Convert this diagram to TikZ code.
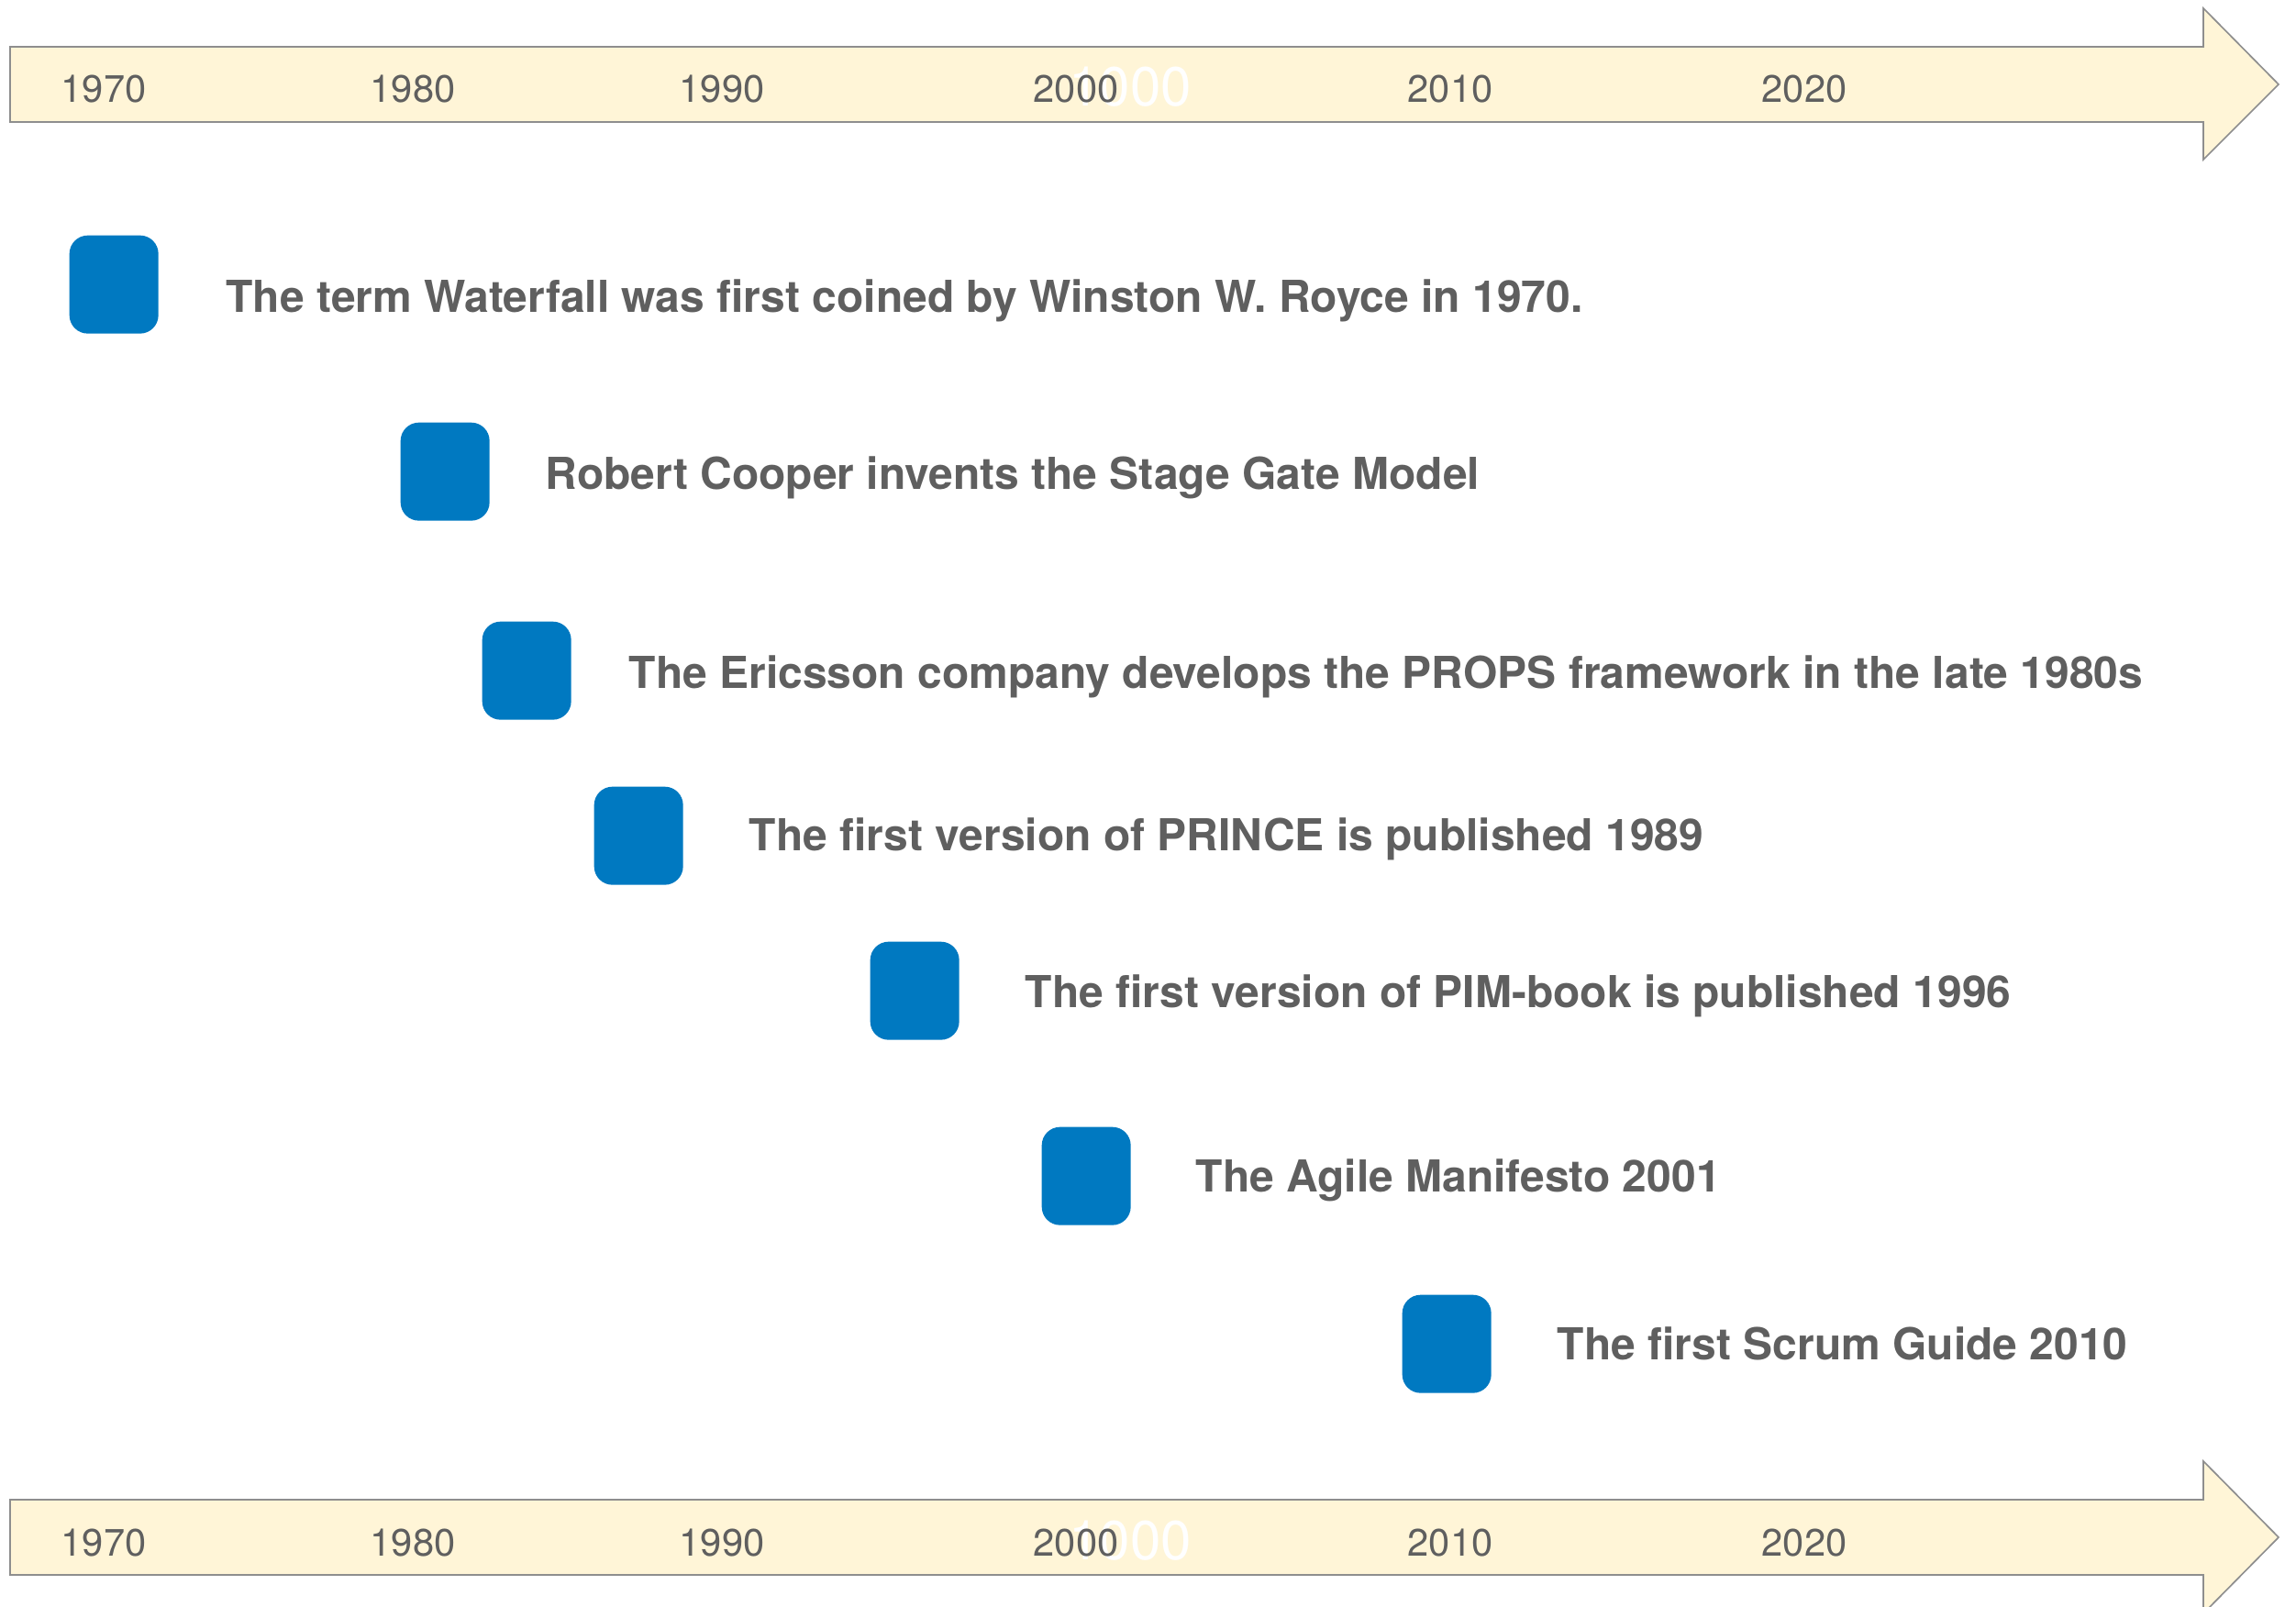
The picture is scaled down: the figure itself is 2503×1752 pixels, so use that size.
\documentclass[tikz,border=0pt]{standalone}
\usepackage{fontspec}
\setmainfont{TeX Gyre Heros}
\definecolor{cream}{HTML}{FFF5D7}
\definecolor{bandline}{HTML}{8E8E8E}
\definecolor{txtgray}{HTML}{5F5F5F}
\definecolor{mblue}{HTML}{0079C1}
\begin{document}
\begin{tikzpicture}[x=0.3pt,y=-0.3pt,
  band/.style={fill=cream,draw=bandline,line width=0.5pt,line join=miter},
  year/.style={anchor=base,inner sep=0pt,text=txtgray,font=\fontsize{12.5}{14}\selectfont},
  ghost/.style={anchor=base,inner sep=0pt,text=white,font=\fontsize{18}{20}\selectfont},
  marker/.style={fill=mblue,rounded corners=6pt,minimum width=29.1pt,minimum height=32.1pt,inner sep=0pt,anchor=north west},
  event/.style={anchor=base west,inner sep=0pt,text=txtgray,font=\bfseries\fontsize{14.4}{16}\selectfont}]
\useasboundingbox (0,0) rectangle (2503,1752);
\clip (0,0) rectangle (2503,1752);
% top band
\draw[band] (11,51) -- (2402,51) -- (2402,9) -- (2484,92) -- (2402,174) -- (2402,133) -- (11,133) -- cycle;
% bottom band
\draw[band] (11,1635) -- (2402,1635) -- (2402,1593) -- (2484,1676) -- (2402,1759) -- (2402,1717) -- (11,1717) -- cycle;
% ghost labels
\node[ghost] (gtop) at (1232,116) {1000};
\node[ghost] (gbot) at (1232,1700) {1000};
% year labels
\foreach \yr/\xx in {1970/113,1980/450,1990/787,2000/1173,2010/1581,2020/1967}{
  \node[year] (top\yr) at (\xx,112) {\yr};
  \node[year] (bot\yr) at (\xx,1696) {\yr};
}
% markers
\node[marker] (m1) at (75,256) {};
\node[marker] (m2) at (436,460) {};
\node[marker] (m3) at (525,677) {};
\node[marker] (m4) at (647,857) {};
\node[marker] (m5) at (948,1026) {};
\node[marker] (m6) at (1135,1228) {};
\node[marker] (m7) at (1528,1411) {};
% events
\node[event] (e1) at (246,341) {The term Waterfall was first coined by Winston W. Royce in 1970.};
\node[event] (e2) at (594,533) {Robert Cooper invents the Stage Gate Model};
\node[event] (e3) at (685,750) {The Ericsson company develops the PROPS framework in the late 1980s};
\node[event] (e4) at (816,927) {The first version of PRINCE is published 1989};
\node[event] (e5) at (1117,1098) {The first version of PIM-book is published 1996};
\node[event] (e6) at (1303,1299) {The Agile Manifesto 2001};
\node[event] (e7) at (1697,1482) {The first Scrum Guide 2010};
\end{tikzpicture}
\end{document}
